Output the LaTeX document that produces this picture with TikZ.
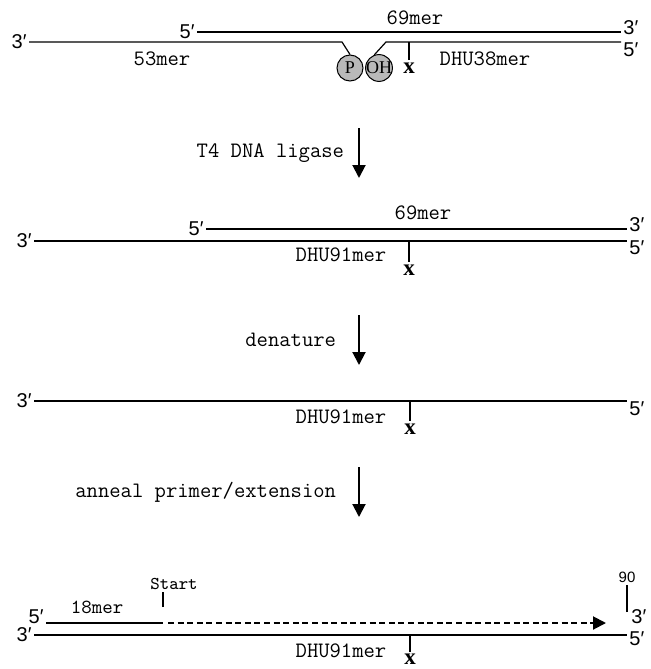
\documentclass[tikz,border=0pt]{standalone}
\usepackage{fontspec}
\usetikzlibrary{arrows.meta, positioning}
\newfontfamily\sansLbl{Liberation Sans}
\newfontfamily\serifLbl{Liberation Serif}
\tikzset{
    % strands
    strandLine/.style={line width=0.6pt, draw=black},
    primerLine/.style={line width=1pt},
    extLine/.style={
        line width=1pt, dash pattern=on 3pt off 1.8pt,
        -{Triangle[length=6.5pt, width=6.5pt]}
    },
    % 3'/5' ends
    endNode/.style={font=\sansLbl\fontsize{10}{10}\selectfont, inner sep=1pt},
    % oligo names
    merNode/.style={font=\ttfamily\fontsize{11}{11}\selectfont, inner sep=0pt},
    smallNode/.style={font=\ttfamily\fontsize{9}{9}\selectfont, inner sep=0pt},
    % steps
    stepNode/.style={font=\ttfamily\fontsize{11}{11}\selectfont, inner sep=0pt},
    stepArrow/.style={line width=1pt, -{Triangle[length=6.5pt, width=6.5pt]}},
    % lesion site
    tickLine/.style={line width=0.7pt},
    siteNode/.style={font=\serifLbl\bfseries\fontsize{11.5}{11}\selectfont, inner sep=0pt},
    groupNode/.style={
        circle, draw, line width=0.5pt, fill=gray!55,
        minimum size=13pt, inner sep=0pt,
        font=\serifLbl\fontsize{9}{9}\selectfont
    }
}

\begin{document}
\begin{tikzpicture}[x=0.5pt, y=-0.5pt]
	\useasboundingbox (0,0) rectangle (650,669);

	% 1. nicked duplex
	\node[endNode, anchor=east] (a3) at (29,42) {3′};
	\node[endNode, anchor=east] (a5) at (197,32) {5′};
	\node[endNode, anchor=base west] (a3r) at (621,34) {3′};
	\node[endNode, anchor=north west] (a5r) at (621,40) {5′};
	\node[groupNode] (pGrp) at (350,68) {P};
	\node[groupNode] (ohGrp) at (379,68) {\kern-0.5pt OH\kern-0.5pt};
	\coordinate (bendP) at (342,42);
	\coordinate (bendOH) at (386,42);

	\draw[strandLine] (a5.east) -- (a5.east -| a3r.west);
	\draw[strandLine] (a3.east) -- (bendP) -- (pGrp.north);
	\draw[strandLine] (ohGrp.110) -- (bendOH) -- (bendOH -| a5r.west);

	\node[merNode] (a69) at (415,18) {69mer};
	\node[merNode] (a53) at (162,59) {53mer};
	\node[merNode] (a38) at (485,59) {DHU38mer};
	\draw[tickLine] (409,42) -- ++(0,18) node[siteNode, below=1pt] (aX) {x};

	% 2. ligation
	\draw[stepArrow] (359,128) -- (359,178)
	node[midway, left=7pt, stepNode] (ligase) {T4 DNA ligase};

	\node[endNode, anchor=east] (b3) at (34,241) {3′};
	\node[endNode, anchor=east] (b5) at (206,229) {5′};
	\node[endNode, anchor=base west] (b3r) at (627,231) {3′};
	\node[endNode, anchor=north west] (b5r) at (627,238) {5′};
	\draw[strandLine] (b5.east) -- (b5.east -| b3r.west);
	\draw[strandLine] (b3.east) -- (b3.east -| b5r.west);

	\node[merNode] (b69) at (423,213) {69mer};
	\node[merNode] (b91) at (341,255) {DHU91mer};
	\draw[tickLine] (409,241) -- ++(0,21) node[siteNode, below=1pt] (bX) {x};

	% 3. single strand
	\draw[stepArrow] (359,315) -- (359,365)
	node[midway, left=11pt, stepNode] (denat) {denature};

	\node[endNode, anchor=east] (c3) at (34,401) {3′};
	\node[endNode, anchor=north west] (c5r) at (627,399) {5′};
	\draw[strandLine] (c3.east) -- (c3.east -| c5r.west);

	\node[merNode] (c91) at (341,417) {DHU91mer};
	\draw[tickLine] (410,402) -- ++(0,19) node[siteNode, below=1pt] (cX) {x};

	% 4. primer extension
	\draw[stepArrow] (359,467) -- (359,517)
	node[midway, left=11pt, stepNode] (anneal) {anneal primer/extension};

	\node[endNode, anchor=base east] (d5) at (46,623) {5′};
	\node[endNode, anchor=base west] (d3r) at (629,623) {3′};
	\coordinate (dStart) at (163,623);
	\coordinate (dEnd) at (606,623);
	\draw[primerLine] (d5.base east) -- (dStart);
	\draw[extLine] ([xshift=2.5pt]dStart) -- (dEnd);

	\node[merNode, font=\ttfamily\fontsize{10}{10}\selectfont] (d18) at (97,607) {18mer};
	\draw[tickLine] (dStart) ++(0,-16) -- ++(0,-15);
	\node[smallNode, anchor=base west] (dStartLbl) at (150,589) {Start};
	\draw[tickLine] (627,612) -- ++(0,-27)
	node[above=1pt, font=\sansLbl\fontsize{7.5}{8}\selectfont, inner sep=0pt] (d90) {90};

	\node[endNode, anchor=east] (d3) at (34,635) {3′};
	\node[endNode, anchor=north west] (d5r) at (627,629) {5′};
	\draw[strandLine] (d3.east) -- (d3.east -| d5r.west);

	\node[merNode] (d91) at (341,651) {DHU91mer};
	\draw[tickLine] (410,636) -- ++(0,16) node[siteNode, below=0.5pt] (dX) {x};

\end{tikzpicture}
\end{document}
